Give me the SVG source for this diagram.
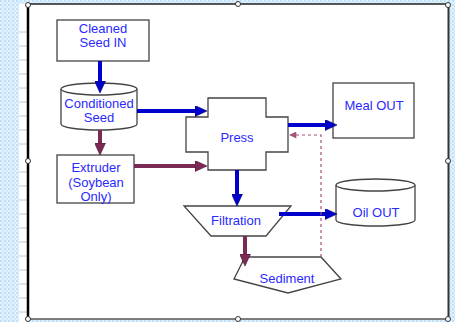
<svg xmlns="http://www.w3.org/2000/svg" width="455" height="322" viewBox="0 0 455 322">
<defs>
<pattern id="chk" width="4" height="4" patternUnits="userSpaceOnUse">
<rect width="4" height="4" fill="#e2f2fd"/>
<rect width="2" height="2" fill="#bfe0f8"/>
<rect x="2" y="2" width="2" height="2" fill="#cfe8fa"/>
</pattern>
<marker id="ab" viewBox="0 0 12 11" refX="6" refY="5.5" markerWidth="12" markerHeight="11" orient="auto" markerUnits="userSpaceOnUse">
<path d="M0,0 L12,5.5 L0,11 z" fill="#0000cc" stroke="#000066" stroke-width="0.6"/>
</marker>
<marker id="am" viewBox="0 0 12 11" refX="6" refY="5.5" markerWidth="12" markerHeight="11" orient="auto" markerUnits="userSpaceOnUse">
<path d="M0,0 L12,5.5 L0,11 z" fill="#7a2a55" stroke="#4a1030" stroke-width="0.6"/>
</marker>
<marker id="ad" viewBox="0 0 10 10" refX="9" refY="5" markerWidth="8" markerHeight="7" orient="auto" markerUnits="userSpaceOnUse">
<path d="M0,0 L10,5 L0,10 z" fill="#a8507a"/>
</marker>
</defs>
<style>
.shape{fill:#ffffff;stroke:#444;stroke-width:1.3}
.t{font-family:"Liberation Sans",Arial,sans-serif;font-size:13px;fill:#2a2aff;text-anchor:middle}
.blue{stroke:#0000cc;stroke-width:4;fill:none}
.maroon{stroke:#7a2a55;stroke-width:4;fill:none}
.dash{stroke:#a8507a;stroke-width:1.2;stroke-dasharray:3,3;fill:none}
.grid{stroke:#c8c8c8;stroke-width:1}
</style>
<rect x="0" y="0" width="455" height="322" fill="url(#chk)"/>
<rect x="19" y="4" width="9" height="318" fill="#ffffff"/>
<g class="grid">
<line x1="19" y1="32" x2="27" y2="32"/><line x1="19" y1="46" x2="27" y2="46"/>
<line x1="19" y1="60" x2="27" y2="60"/><line x1="19" y1="74" x2="27" y2="74"/>
<line x1="19" y1="88" x2="27" y2="88"/><line x1="19" y1="102" x2="27" y2="102"/>
<line x1="19" y1="116" x2="27" y2="116"/><line x1="19" y1="130" x2="27" y2="130"/>
<line x1="19" y1="144" x2="27" y2="144"/><line x1="19" y1="172" x2="27" y2="172"/>
<line x1="19" y1="186" x2="27" y2="186"/><line x1="19" y1="200" x2="27" y2="200"/>
<line x1="19" y1="214" x2="27" y2="214"/><line x1="19" y1="228" x2="27" y2="228"/>
<line x1="19" y1="242" x2="27" y2="242"/><line x1="19" y1="256" x2="27" y2="256"/>
<line x1="19" y1="270" x2="27" y2="270"/><line x1="19" y1="284" x2="27" y2="284"/>
<line x1="19" y1="298" x2="27" y2="298"/><line x1="19" y1="312" x2="27" y2="312"/>
</g>
<rect x="28" y="4" width="420" height="315" fill="#ffffff"/>
<line x1="28" y1="4" x2="448" y2="4" stroke="#222" stroke-width="1.5"/>
<line x1="28" y1="319" x2="448" y2="319" stroke="#555" stroke-width="1.5"/>
<line x1="28" y1="4" x2="28" y2="319" stroke="#000" stroke-width="2.5"/>
<line x1="448.5" y1="4" x2="448.5" y2="319" stroke="#333" stroke-width="2"/>
<g fill="#fff" stroke="#333" stroke-width="1">
<circle cx="28" cy="5" r="2.5"/><circle cx="238" cy="4" r="2.5"/><circle cx="448" cy="5" r="2.5"/>
<circle cx="28" cy="161" r="2.5"/><circle cx="448" cy="161" r="2.5"/>
<circle cx="28" cy="319" r="2.5"/><circle cx="238" cy="319" r="2.5"/><circle cx="448" cy="319" r="2.5"/>
</g>
<g id="cleaned">
<rect class="shape" x="57" y="20" width="92" height="41"/>
<text class="t" x="103" y="33">Cleaned</text>
<text class="t" x="103" y="47">Seed IN</text>
</g>
<g id="conditioned">
<path class="shape" d="M61,89 A38,6 0 0 1 137,89 L137,124 A38,6 0 0 1 61,124 Z"/>
<path class="shape" fill="none" d="M61,89 A38,6 0 0 0 137,89"/>
<text class="t" x="99" y="108">Conditioned</text>
<text class="t" x="99" y="122">Seed</text>
</g>
<g id="extruder">
<rect class="shape" x="57" y="155" width="77" height="48"/>
<text class="t" x="96" y="172">Extruder</text>
<text class="t" x="96" y="187">(Soybean</text>
<text class="t" x="96" y="201">Only)</text>
</g>
<g id="press">
<path class="shape" d="M208,98 L266,98 L266,117 L288,117 L288,152 L266,152 L266,170 L208,170 L208,152 L186,152 L186,117 L208,117 Z"/>
<text class="t" x="237" y="142">Press</text>
</g>
<g id="meal">
<rect class="shape" x="333" y="83" width="81" height="55"/>
<text class="t" x="374" y="110">Meal OUT</text>
</g>
<g id="filtration">
<path class="shape" d="M184,206 L291,206 L266,236 L211,236 Z"/>
<text class="t" x="236" y="225">Filtration</text>
</g>
<g id="oil">
<path class="shape" d="M336,185 A39.5,6 0 0 1 415,185 L415,220 A39.5,6 0 0 1 336,220 Z"/>
<path class="shape" fill="none" d="M336,185 A39.5,6 0 0 0 415,185"/>
<text class="t" x="376" y="217">Oil OUT</text>
</g>
<g id="sediment">
<path class="shape" d="M245,257 L321,257 L341,279 L288,293 L234,279 Z"/>
<text class="t" x="287" y="283">Sediment</text>
</g>
<g id="connectors">
<line class="blue" x1="100" y1="61" x2="100" y2="87" marker-end="url(#ab)"/>
<line class="blue" x1="137" y1="111" x2="201" y2="111" marker-end="url(#ab)"/>
<line class="maroon" x1="100" y1="130" x2="100" y2="149" marker-end="url(#am)"/>
<line class="maroon" x1="134" y1="166" x2="201" y2="166" marker-end="url(#am)"/>
<line class="blue" x1="288" y1="125" x2="331" y2="125" marker-end="url(#ab)"/>
<line class="blue" x1="237" y1="170" x2="237" y2="200" marker-end="url(#ab)"/>
<line class="blue" x1="279" y1="214" x2="331" y2="214" marker-end="url(#ab)"/>
<line class="maroon" x1="245" y1="236" x2="245" y2="260" marker-end="url(#am)"/>
<polyline class="dash" points="321,257 321,135 290,135" marker-end="url(#ad)"/>
</g>
</svg>
